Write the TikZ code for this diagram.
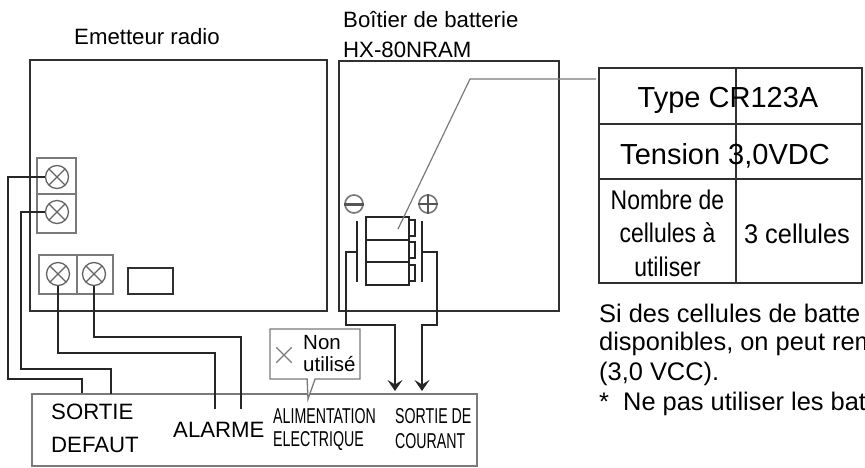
\documentclass[tikz,border=0pt]{standalone}
\usepackage{fontspec}
\setmainfont{Liberation Sans}
\newfontfamily\narrowtext[FakeStretch=0.85]{Liberation Sans}
\newfontfamily\widertext[FakeStretch=0.94]{Liberation Sans}
\newfontfamily\slimtext[FakeStretch=0.66]{Liberation Sans}
\usetikzlibrary{positioning,arrows.meta,shapes.callouts,shapes.misc}
\definecolor{framecol}{HTML}{303030}
\definecolor{blockcol}{HTML}{7A7A7A}
\tikzset{
	frame/.style={draw=framecol, line width=1.5pt, inner sep=0pt},
	block/.style={draw=blockcol, line width=1.3pt, inner sep=0pt},
	screw/.style={circle, draw=framecol!75, line width=1.3pt, inner sep=0pt, minimum size=23pt,
		path picture={\draw[framecol!75, line width=1.3pt] (path picture bounding box.north west) -- (path picture bounding box.south east)
			(path picture bounding box.north east) -- (path picture bounding box.south west);}},
	wire/.style={draw=black!85, line width=1.5pt},
	outarrow/.style={wire, -{Stealth[length=11pt,width=15pt,inset=4.5pt]}},
	polarity/.style={circle, draw=blockcol, line width=1.7pt, inner sep=0pt, minimum size=18pt},
	cellbox/.style={draw=black!85, line width=1.4pt, inner sep=0pt},
	leader/.style={draw=blockcol, line width=1.2pt},
	big/.style={inner sep=0pt, font=\fontsize{22.2}{24}\selectfont},
	huge/.style={inner sep=0pt, font=\fontsize{29}{32}\selectfont},
	narrowcell/.style={inner sep=0pt, font=\narrowtext\fontsize{27}{30}\selectfont},
	slim/.style={inner sep=0pt, font=\slimtext\fontsize{21.5}{24}\selectfont},
	note/.style={inner sep=0pt, anchor=base west, font=\fontsize{25.4}{27}\selectfont}
}

\begin{document}
\begin{tikzpicture}[x=1pt,y=-1pt]
	\useasboundingbox (0,0) rectangle (865,467);
	\clip (0,0) rectangle (865,467);
	%%%titles
	\node[big] at (147,37) (emitterTitle){Emetteur radio};
	\node[big, anchor=west] at (343,20) (caseTitle){Boîtier de batterie};
	\node[big, anchor=west] at (343,50) (caseModel){HX-80NRAM};
	%%%frames
	\node[frame, minimum width=297, minimum height=251] at (178.5,185.5) (emitter){};
	\node[frame, minimum width=220, minimum height=250] at (449,186) (case){};
	\node[block, minimum width=445, minimum height=72] at (254.5,430) (outputs){};
	%%%emitter terminals
	%vertical block
	\node[block, minimum width=39, minimum height=36] at (56.5,176) (blockA){};
	\node[block, minimum width=39, minimum height=39] at (56.5,213.5) (blockB){};
	\node[screw] at (57,177) (screwA){};
	\node[screw] at (57,212) (screwB){};
	%horizontal block
	\node[block, minimum width=38, minimum height=39] at (58,274.5) (blockC){};
	\node[block, minimum width=36, minimum height=39] at (95,274.5) (blockD){};
	\node[screw] at (58,274) (screwC){};
	\node[screw] at (94,274) (screwD){};
	\node[frame, minimum width=45, minimum height=26] at (150.5,281) (slot){};
	%%%battery
	\node[cellbox, minimum width=43, minimum height=23] at (387.5,228.5) (cellA){};
	\node[cellbox, minimum width=43, minimum height=22] at (387.5,251) (cellB){};
	\node[cellbox, minimum width=43, minimum height=23] at (387.5,273.5) (cellC){};
	\node[cellbox, minimum width=6, minimum height=16] at (412,228) (tipA){};
	\node[cellbox, minimum width=6, minimum height=16] at (412,250) (tipB){};
	\node[cellbox, minimum width=6, minimum height=16] at (412,273) (tipC){};
	\node[polarity] at (354,204) (minus){};
	\node[polarity] at (428,204) (plus){};
	\draw[blockcol!70!black, line width=3pt] (minus.west) -- (minus.east);
	\draw[blockcol!70!black, line width=2pt] (plus.west) -- (plus.east) (plus.north) -- (plus.south);
	%contact plates
	\coordinate (plateLtop) at (357,221);
	\coordinate (plateLmid) at (357,252);
	\coordinate (plateLbot) at (357,282);
	\coordinate (plateRtop) at (422,221);
	\coordinate (plateRmid) at (422,252);
	\coordinate (plateRbot) at (422,282);
	\draw[wire] (plateLtop) -- (plateLbot);
	\draw[wire] (plateRtop) -- (plateRbot);
	%%%bottom ends
	\coordinate (inA) at (82,393);
	\coordinate (inB) at (111,394);
	\coordinate (inC) at (215,409);
	\coordinate (inD) at (241,409);
	\coordinate (outA) at (395,391);
	\coordinate (outB) at (422,391);
	%%%links
	\draw[wire] (screwA.west) -- (8,177) -- (8,379) -- (82,379) -- (inA);
	\draw[wire] (screwB.west) -- (21,212) -- (21,369) -- (111,369) -- (inB);
	\draw[wire] (screwC.south) -- (58,353) -- (215,353) -- (inC);
	\draw[wire] (screwD.south) -- (94,337) -- (241,337) -- (inD);
	\draw[outarrow] (plateLmid) -- (346,252) -- (346,325) -- (395,325) -- (outA);
	\draw[outarrow] (plateRmid) -- (437,252) -- (437,325) -- (422,325) -- (outB);
	%%%table
	\node[frame, minimum width=263, minimum height=215] at (730.5,175.5) (specs){};
	\coordinate (rowAleft) at (599,124);
	\coordinate (rowAright) at (862,124);
	\coordinate (rowBleft) at (599,179);
	\coordinate (rowBright) at (862,179);
	\draw[framecol, line width=1.5pt] (rowAleft) -- (rowAright);
	\draw[framecol, line width=1.5pt] (rowBleft) -- (rowBright);
	\draw[framecol, line width=1.5pt] (specs.north -| 736,0) -- (specs.south -| 736,0);
	\node[huge] at (728,100) (rowType){Type CR123A};
	\node[huge] at (725,156) (rowVolt){Tension 3,0VDC};
	\node[narrowcell, align=center] at (667.5,233) (rowCount){Nombre de\\[3.5pt]cellules à\\[3.5pt]utiliser};
	\node[inner sep=0pt, font=\widertext\fontsize{27}{30}\selectfont] at (797,234) (rowCells){3 cellules};
	%leader
	\coordinate (leadCell) at (398,229);
	\coordinate (leadTable) at (596,79);
	\draw[leader] (leadCell) -- (470,79) -- (leadTable);
	%%%not used
	\node[rectangle callout, draw=blockcol, line width=1.3pt, fill=white, minimum width=90, minimum height=50, inner sep=0pt,
		callout absolute pointer={(308,399)}, callout pointer width=8pt] at (315,354) (unused){};
	\node[cross out, draw=blockcol, line width=1.3pt, minimum size=14pt, inner sep=0pt] at (284,355) (unusedMark){};
	\node[inner sep=0pt, anchor=west, font=\fontsize{20.5}{22}\selectfont] at (303,343) (unusedA){Non};
	\node[inner sep=0pt, anchor=west, font=\fontsize{20.5}{22}\selectfont] at (303,364) (unusedB){utilisé};
	%%%output labels
	\node[big, anchor=west] at (51,412) (labDefautA){SORTIE};
	\node[big, anchor=west] at (51,445) (labDefautB){DEFAUT};
	\node[big, anchor=west] at (173,430) (labAlarm){ALARME};
	\node[slim, anchor=west] at (273,416) (labPowerA){ALIMENTATION};
	\node[slim, anchor=west] at (273,441) (labPowerB){ELECTRIQUE};
	\node[slim, anchor=west] at (395,416) (labCurrentA){SORTIE DE};
	\node[slim, anchor=west] at (395,441) (labCurrentB){COURANT};
	%%%note
	\node[note] at (599,322) (noteA){Si des cellules de batte};
	\node[note] at (599,350) (noteB){disponibles, on peut rem};
	\node[note] at (599,380) (noteC){(3,0 VCC).};
	\node[note] at (599,410) (noteD){*\ \ Ne pas utiliser les bat};
\end{tikzpicture}
\end{document}
